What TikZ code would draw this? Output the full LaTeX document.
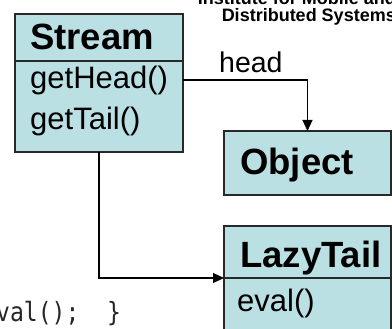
\documentclass[tikz,border=0pt]{standalone}
\usepackage{fontspec}
\setmainfont{Liberation Sans}
\newfontfamily\codefont[FakeStretch=0.87]{DejaVu Sans Mono}
\usetikzlibrary{arrows.meta}
\definecolor{boxfill}{RGB}{187,224,227}
\definecolor{boxline}{RGB}{40,40,40}
\tikzset{
 classbox/.style={draw=boxline, fill=boxfill, line width=1.3pt, inner sep=0pt, outer sep=0pt, anchor=north west},
 titletext/.style={font=\fontsize{36.5}{42}\selectfont\bfseries, anchor=base west, inner sep=0pt},
 methodtext/.style={font=\fontsize{31}{37}\selectfont, anchor=base west, inner sep=0pt},
 labeltext/.style={font=\fontsize{28.5}{32}\selectfont, anchor=base west, inner sep=0pt},
 insttext/.style={font=\fontsize{18}{20}\selectfont\bfseries, anchor=base east, inner sep=0pt},
 codetext/.style={font=\codefont\fontsize{26.5}{30}\selectfont, anchor=base west, inner sep=0pt, text=black!85},
 arr/.style={line width=1.2pt, -{Triangle[length=11pt,width=10pt]}},
}
\begin{document}
\begin{tikzpicture}[x=1pt,y=-1pt]
\useasboundingbox (0,0) rectangle (392,329);
\node[classbox, minimum width=168pt, minimum height=47pt] (streamH) at (15,14) {};
\node[classbox, minimum width=168pt, minimum height=91pt] (streamB) at (15,61) {};
\node[classbox, minimum width=167pt, minimum height=64pt] (object) at (224,131) {};
\node[classbox, minimum width=167pt, minimum height=52pt] (lazyH) at (224,226) {};
\node[classbox, minimum width=167pt, minimum height=70pt] (lazyB) at (224,278) {};
\node[titletext] (streamT) at (30,50) {Stream};
\node[methodtext] (getHeadT) at (30,89) {getHead()};
\node[methodtext] (getTailT) at (30,130) {getTail()};
\node[titletext] (objectT) at (240,175) {Object};
\node[titletext] (lazyT) at (240,268) {LazyTail};
\node[methodtext] (evalT) at (237,312) {eval()};
\node[labeltext] (headL) at (219,73) {head};
\draw[arr] ([yshift=-19pt]streamB.north east) -| (object.north);
\draw[arr] ([xshift=84pt]streamB.south west) |- (lazyH.south west);
\node[insttext] (inst1) at (396,5) {Institute for Mobile and};
\node[insttext] (inst2) at (396,22) {Distributed Systems};
\node[codetext] (code) at (-4,322) {val();~~\}};
\end{tikzpicture}
\end{document}
